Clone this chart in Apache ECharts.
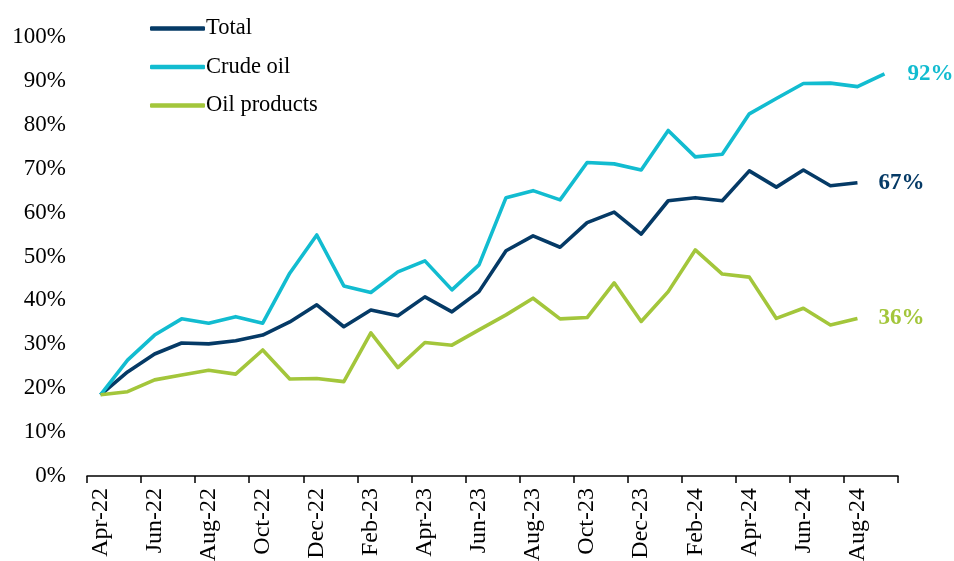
<!DOCTYPE html>
<html>
<head>
<meta charset="utf-8">
<script src="https://cdn.jsdelivr.net/npm/echarts@6/dist/echarts.min.js"></script>
<style>html,body{margin:0;padding:0;background:#fff}#c{width:954px;height:561px}</style>
</head>
<body>
<div id="c"></div>
<script>
const months = ['Apr-22','May-22','Jun-22','Jul-22','Aug-22','Sep-22','Oct-22','Nov-22','Dec-22','Jan-23','Feb-23','Mar-23','Apr-23','May-23','Jun-23','Jul-23','Aug-23','Sep-23','Oct-23','Nov-23','Dec-23','Jan-24','Feb-24','Mar-24','Apr-24','May-24','Jun-24','Jul-24','Aug-24','Sep-24'];
const total = [18.5,23.7,27.8,30.3,30.1,30.8,32.1,35.1,39.0,34.0,37.8,36.5,40.8,37.4,42.0,51.3,54.7,52.1,57.7,60.1,55.1,62.7,63.4,62.7,69.5,65.8,69.7,66.1,66.8,null];
const crude = [18.5,26.4,32.1,35.8,34.8,36.3,34.8,46.2,54.9,43.3,41.8,46.5,49.0,42.4,48.1,63.4,65.0,62.9,71.4,71.1,69.7,78.7,72.7,73.3,82.5,86.0,89.4,89.5,88.7,91.6];
const products = [18.5,19.2,21.9,23.0,24.1,23.2,28.7,22.1,22.2,21.5,32.6,24.7,30.4,29.8,33.3,36.7,40.5,35.8,36.1,44.0,35.2,42.0,51.5,46.0,45.3,35.9,38.2,34.4,35.9,null];
const yTicks = [0,10,20,30,40,50,60,70,80,90,100];

const FONT = '"Liberation Serif", "Times New Roman", serif';
const C_TOTAL = '#053a66', C_CRUDE = '#12bcd0', C_PROD = '#a3c63b';

function mkSeries(name, data, color, dist) {
  return {
    name, type: 'line', data, showSymbol: false, symbol: 'none',
    lineStyle: { color, width: 3.6, join: 'round' },
    itemStyle: { color },
    emphasis: { disabled: true },
    endLabel: {
      show: true, distance: dist, color, fontFamily: FONT, fontSize: 23, fontWeight: 'bold',
      formatter: p => Math.round(p.value) + '%'
    }
  };
}

const chart = echarts.init(document.getElementById('c'));
chart.setOption({
  animation: false,
  backgroundColor: '#fff',
  grid: { left: 87, right: 56, top: 37, bottom: 85, outerBoundsMode: 'none', containLabel: false },
  legend: {
    orient: 'vertical', left: 145, top: 12, itemGap: 15.5,
    icon: 'roundRect', itemWidth: 55, itemHeight: 4.5,
    textStyle: { fontFamily: FONT, fontSize: 22.5, lineHeight: 22, color: '#000', padding: [0,0,0,-4] },
    data: ['Total','Crude oil','Oil products']
  },
  xAxis: {
    type: 'category', data: months, boundaryGap: true,
    axisLine: { lineStyle: { color: '#000', width: 1.5 } },
    axisTick: { show: true, interval: 1, length: 7, lineStyle: { color: '#000', width: 1.5 } },
    axisLabel: { interval: 1, rotate: 90, fontFamily: FONT, fontSize: 24, color: '#000', margin: 12 }
  },
  yAxis: {
    type: 'value', min: 0, max: 100, interval: 10,
    axisLine: { show: false }, axisTick: { show: false }, splitLine: { show: false },
    axisLabel: { fontFamily: FONT, fontSize: 23, color: '#000', margin: 21,
      formatter: v => yTicks.includes(v) ? v + '%' : '' }
  },
  series: [
    mkSeries('Total', total, C_TOTAL, 21),
    mkSeries('Crude oil', crude, C_CRUDE, 23),
    mkSeries('Oil products', products, C_PROD, 21)
  ]
});
</script>
</body>
</html>
